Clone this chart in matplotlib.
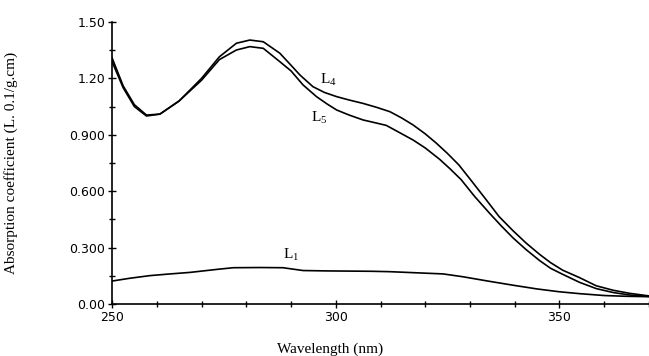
import matplotlib
matplotlib.use("Agg")
import matplotlib.pyplot as plt
from matplotlib.ticker import MultipleLocator, FixedLocator

plt.rcParams["mathtext.fontset"] = "custom"
plt.rcParams["mathtext.rm"] = "Liberation Serif"
plt.rcParams["mathtext.it"] = "Liberation Serif:italic"

# Data
wl_L4 = [250, 252.5, 255, 257.7, 260.7, 265, 270, 274, 277.8, 280.8, 283.8, 287.5, 290, 292, 294.9,
         297.5, 300.2, 303, 306.1, 309, 312.1, 314.7, 317.3, 320, 322.5, 325, 327.5, 330, 333.6,
         336.5, 339.6, 342.5, 345.5, 348, 350.7, 354.5, 358.2, 362, 365.6, 370]
ab_L4 = [1.31, 1.16, 1.06, 1.005, 1.01, 1.08, 1.20, 1.315, 1.387, 1.404, 1.395, 1.334, 1.27, 1.218,
         1.156, 1.125, 1.103, 1.085, 1.067, 1.047, 1.023, 0.99, 0.952, 0.905, 0.855, 0.80, 0.74,
         0.665, 0.555, 0.465, 0.39, 0.325, 0.265, 0.22, 0.18, 0.14, 0.097, 0.073, 0.057, 0.043]

wl_L5 = [250, 252.5, 255, 257.7, 260.7, 265, 270, 274, 277.8, 280.8, 283.8, 287.5, 290, 292.7,
         295.7, 298, 300.2, 303, 306.1, 309, 311.3, 314, 317.3, 320, 323.2, 325.5, 328, 331,
         334.4, 337, 339.6, 342.5, 345.5, 348, 350.7, 354.5, 358.2, 362, 365.6, 370]
ab_L5 = [1.29, 1.15, 1.05, 1.0, 1.01, 1.08, 1.19, 1.30, 1.351, 1.369, 1.36, 1.289, 1.24, 1.165,
         1.103, 1.065, 1.032, 1.005, 0.979, 0.963, 0.95, 0.915, 0.872, 0.83, 0.77, 0.72, 0.662,
         0.573, 0.482, 0.415, 0.352, 0.29, 0.232, 0.19, 0.158, 0.115, 0.082, 0.061, 0.048, 0.04]

wl_L1 = [250, 254, 258.5, 263, 267.4, 273.4, 277.1, 283, 288.2, 292.7, 298, 303, 308, 312, 318,
         324, 328.4, 334, 339.6, 345, 350, 354.5, 360, 365, 370]
ab_L1 = [0.122, 0.137, 0.151, 0.16, 0.168, 0.184, 0.193, 0.194, 0.193, 0.178, 0.176, 0.175,
         0.174, 0.172, 0.166, 0.16, 0.145, 0.122, 0.10, 0.08, 0.065, 0.055, 0.045, 0.041, 0.039]

x_ticks = [250, 300, 350]
y_ticks = [0.0, 0.3, 0.6, 0.9, 1.2, 1.5]
y_tick_labels = ["0.00", "0.300", "0.600", "0.900", "1.20", "1.50"]

fig = plt.figure(figsize=(6.49, 3.56), dpi=100)
ax = fig.add_axes([112/649, 1-304/356, 537/649, 282/356])

for wl, ab in [(wl_L4, ab_L4), (wl_L5, ab_L5), (wl_L1, ab_L1)]:
    ax.plot(wl, ab, color="black", lw=1.2, solid_joinstyle="round")

ax.set_xlim(250, 370)
ax.set_ylim(0, 1.5)
ax.spines["top"].set_visible(False)
ax.spines["right"].set_visible(False)
ax.spines["left"].set_linewidth(1.2)
ax.spines["bottom"].set_linewidth(1.2)

ax.xaxis.set_major_locator(FixedLocator(x_ticks))
ax.xaxis.set_minor_locator(MultipleLocator(10))
ax.yaxis.set_major_locator(FixedLocator(y_ticks))
ax.yaxis.set_minor_locator(MultipleLocator(0.15))
ax.set_yticklabels(y_tick_labels)
ax.tick_params(which="major", direction="inout", length=6, width=1, labelsize=9, pad=2)
ax.tick_params(which="minor", direction="inout", length=4, width=1)
for lab in ax.get_xticklabels() + ax.get_yticklabels():
    lab.set_family("DejaVu Sans")

serif = "Liberation Serif"
ax.set_xlabel("Wavelength (nm)", family=serif, fontsize=11)
ax.xaxis.set_label_coords((330-112)/537, -0.135)
ax.set_ylabel("Absorption coefficient (L. 0.1/g.cm)", family=serif, fontsize=11)
ax.yaxis.set_label_coords(-(112-18)/537, 0.5)

ax.text(296.4, 1.19, "L$_4$", family=serif, fontsize=11, ha="left", va="center")
ax.text(294.5, 0.99, "L$_5$", family=serif, fontsize=11, ha="left", va="center")
ax.text(288.2, 0.26, "L$_1$", family=serif, fontsize=11, ha="left", va="center")

fig.savefig("out.png", dpi=100)
